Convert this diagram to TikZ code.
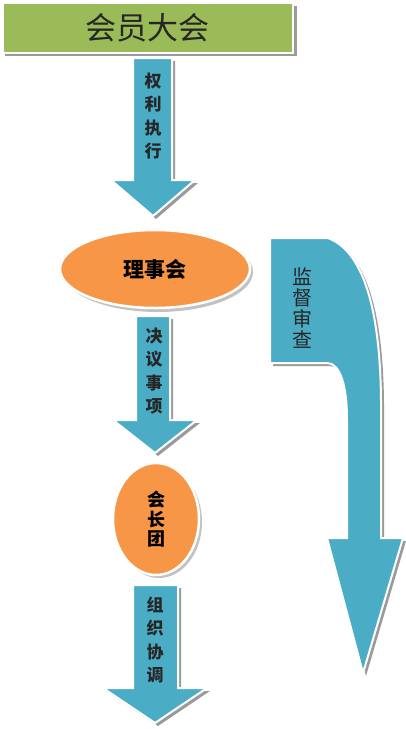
\documentclass[tikz,border=0pt]{standalone}
\usepackage{fontspec}
\newfontfamily\cjk{Noto Sans CJK SC}
\usetikzlibrary{shapes.geometric}
\definecolor{boxgreen}{HTML}{9BBB59}
\definecolor{arrowblue}{HTML}{4BACC6}
\definecolor{ellorange}{HTML}{F79646}
\definecolor{shadowgray}{HTML}{9A9A9A}
\tikzset{
  blockarrow/.style={fill=arrowblue, draw=white, line width=2pt, line join=miter},
  arrowshadow/.style={fill=shadowgray, draw=none},
  arrowtext/.style={font=\cjk\bfseries\fontsize{17}{23.5}\selectfont, align=center, inner sep=0pt, text=black!85},
  ellnode/.style={ellipse, fill=ellorange, draw=white, line width=2.5pt, inner sep=0pt},
}
\begin{document}
\begin{tikzpicture}[x=1pt,y=-1pt]
\useasboundingbox (0,0) rectangle (406,729);
% ---- top box
\fill[shadowgray] (5,6) rectangle (297,56);
\node[draw=white, line width=1.5pt, fill=boxgreen, minimum width=290pt, minimum height=50pt, anchor=north west, inner sep=0pt,
      font=\cjk\fontsize{31}{31}\selectfont, text=black!85] (meeting) at (2,2) {会员大会};
% ---- arrow 1
\coordinate (a1) at (153,58);
\fill[arrowshadow] (136,61) -- (175,61) -- (175,183) -- (198,183) -- (156,219) -- (114,183) -- (136,183) -- cycle;
\draw[blockarrow] (133,58) -- (172,58) -- (172,180) -- (195,180) -- (153,216) -- (111,180) -- (133,180) -- cycle;
\node[arrowtext] (t1) at (153,116) {权\\利\\执\\行};
% ---- council ellipse
\fill[shadowgray!60] (158,272) ellipse [x radius=95, y radius=40];
\node[ellnode, minimum width=190pt, minimum height=78pt] (council) at (155,269)
  {\cjk\bfseries\fontsize{21}{21}\selectfont 理事会};
% ---- arrow 2
\fill[arrowshadow] (139,319) -- (173,319) -- (173,423) -- (200,423) -- (158,456) -- (116,423) -- (139,423) -- cycle;
\draw[blockarrow] (136,316) -- (170,316) -- (170,420) -- (197,420) -- (155,453) -- (113,420) -- (136,420) -- cycle;
\node[arrowtext] (t2) at (154,371) {决\\议\\事\\项};
% ---- presidium ellipse
\fill[shadowgray!60] (159,522) ellipse [x radius=43, y radius=56];
\node[ellnode, minimum width=86pt, minimum height=112pt] (presidium) at (156,519)
  {\cjk\bfseries\fontsize{18}{24.5}\selectfont\shortstack{会\\长\\团}};
% ---- arrow 3
\fill[arrowshadow] (136,588) -- (181,588) -- (181,691) -- (210,691) -- (158,726) -- (106,691) -- (136,691) -- cycle;
\draw[blockarrow] (133,585) -- (178,585) -- (178,688) -- (207,688) -- (155,723) -- (103,688) -- (133,688) -- cycle;
\node[arrowtext] (t3) at (155,640) {组\\织\\协\\调};
% ---- curved supervision arrow
\begin{scope}[shift={(3,3)}]
\fill[arrowshadow] (270,238) -- (328,238) .. controls (360,250) and (380,300) .. (381,400) -- (381,538) -- (403,538) -- (363,673) -- (327,538) -- (347,538) -- (347,420) .. controls (347,385) and (340,363) .. (327,363) -- (270,363) -- cycle;
\end{scope}
\draw[blockarrow] (270,238) -- (328,238) .. controls (360,250) and (380,300) .. (381,400) -- (381,538) -- (403,538) -- (363,673) -- (327,538) -- (347,538) -- (347,420) .. controls (347,385) and (340,363) .. (327,363) -- (270,363) -- cycle;
\node[font=\cjk\fontsize{20}{21}\selectfont, align=center, inner sep=0pt, text=black!85] (t4) at (302,308) {监\\督\\审\\查};
\end{tikzpicture}
\end{document}
